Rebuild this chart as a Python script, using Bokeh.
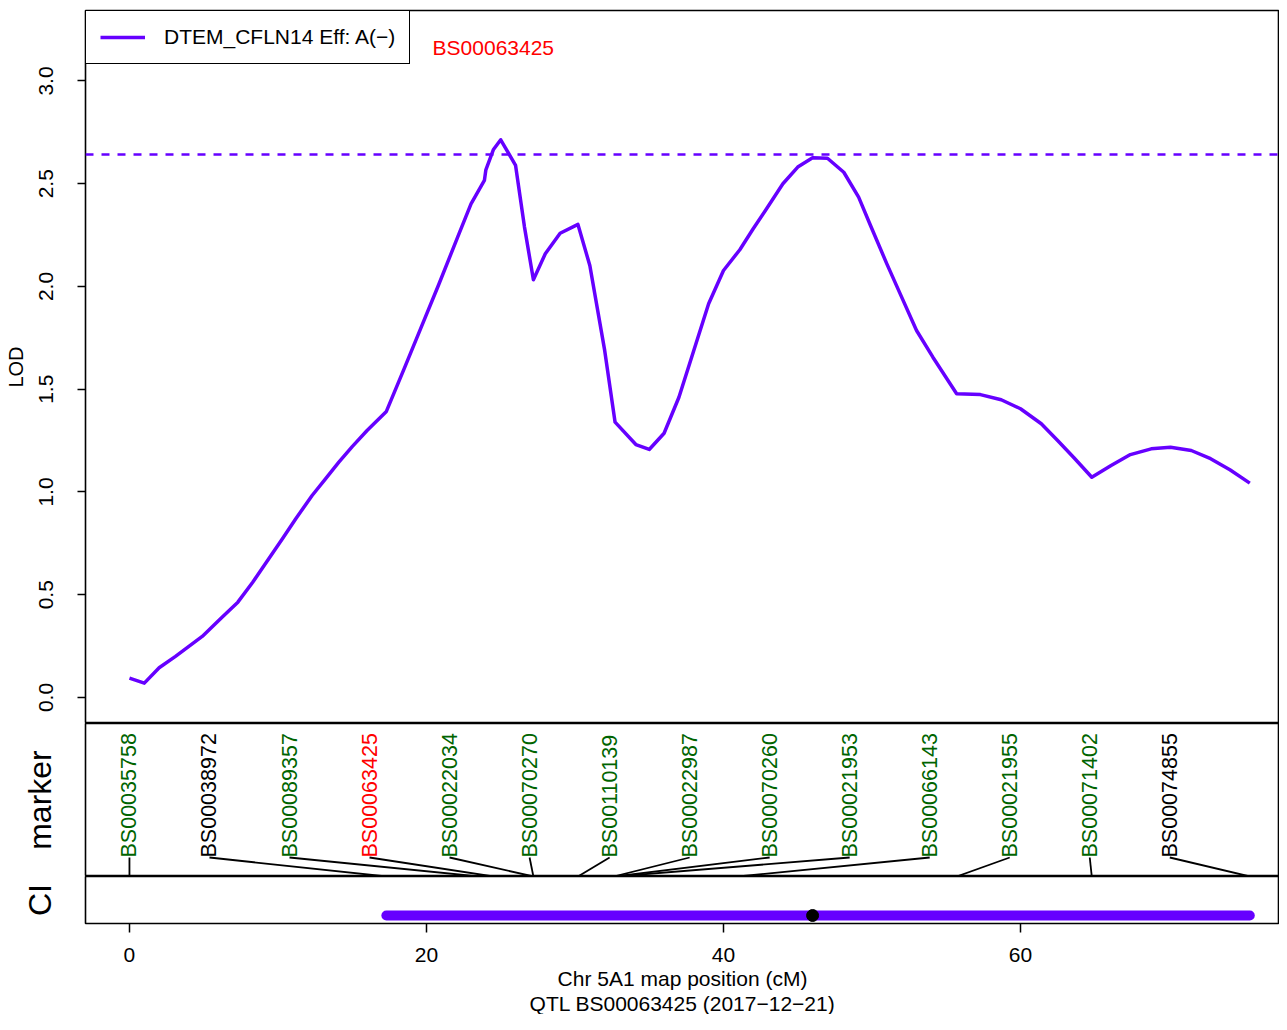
import math
from bokeh.plotting import figure
from bokeh.layouts import column
from bokeh.models import Range1d, FixedTicker, Legend, LegendItem, Span, Title
from bokeh.core.properties import value
from bokeh.embed import file_html
from bokeh.resources import INLINE

# ---------------- data ----------------
lod_pos = [0.0, 1.0, 2.0, 3.1, 4.9, 6.2, 7.3, 8.3, 9.3, 10.3, 11.2, 12.3, 13.2, 14.1, 15.0,
           16.0, 17.3, 18.5, 19.6, 20.8, 22.1, 23.0, 23.9, 24.0, 24.5, 25.0, 26.0, 26.6, 27.2,
           28.0, 29.0, 30.2, 31.0, 32.0, 32.7, 34.1, 35.0, 36.0, 37.0, 38.0, 39.0, 40.0, 41.1,
           42.0, 42.9, 44.0, 45.0, 46.0, 47.0, 48.1, 49.1, 49.9, 51.0, 51.9, 53.0, 54.1, 55.7,
           57.3, 58.7, 60.0, 61.4, 62.5, 63.6, 64.8, 66.1, 67.4, 68.8, 70.1, 71.5, 72.8, 74.1, 75.44]
lod_val = [0.094, 0.070, 0.145, 0.200, 0.297, 0.388, 0.464, 0.561, 0.667, 0.772, 0.870, 0.983,
           1.064, 1.145, 1.221, 1.299, 1.392, 1.600, 1.794, 2.005, 2.240, 2.402, 2.516, 2.568,
           2.665, 2.714, 2.589, 2.289, 2.033, 2.159, 2.259, 2.302, 2.102, 1.689, 1.340, 1.231,
           1.207, 1.286, 1.461, 1.689, 1.916, 2.078, 2.179, 2.281, 2.378, 2.500, 2.581, 2.626,
           2.624, 2.556, 2.435, 2.297, 2.110, 1.964, 1.786, 1.656, 1.478, 1.474, 1.449, 1.405,
           1.332, 1.251, 1.167, 1.072, 1.129, 1.182, 1.210, 1.218, 1.202, 1.162, 1.108, 1.043]
threshold = 2.642

marker_names = ["BS00035758", "BS00038972", "BS00089357", "BS00063425", "BS00022034",
                "BS00070270", "BS00110139", "BS00022987", "BS00070260", "BS00021953",
                "BS00066143", "BS00021955", "BS00071402", "BS00074855"]
marker_pos = [0.0, 17.3, 23.5, 24.5, 27.2, 27.2, 30.2, 32.6, 32.7, 32.8, 41.0, 55.7, 64.8, 75.44]
marker_colors = ["darkgreen", "black", "darkgreen", "red", "darkgreen", "darkgreen", "darkgreen",
                 "darkgreen", "darkgreen", "darkgreen", "darkgreen", "darkgreen", "darkgreen", "black"]
qtl_marker = "BS00063425"
ci_low, ci_high, ci_peak = 17.3, 75.44, 46.0
x_ticks = [0, 20, 40, 60]
y_ticks = [0.0, 0.5, 1.0, 1.5, 2.0, 2.5, 3.0]

legend_label = "DTEM_CFLN14 Eff: A(\u2212)"
ylab = "LOD"
xlab = "Chr 5A1 map position (cM)"
sub = "QTL BS00063425 (2017\u221212\u221221)"

PURPLE = "#6600FF"
FONT = "Liberation Sans"
W = 1279
LEFT = 85

x_range = Range1d(-2.96, 77.44)


def style(fig):
    fig.grid.visible = False
    fig.outline_line_color = "black"
    fig.outline_line_width = 1.6
    fig.background_fill_color = "white"
    fig.border_fill_color = "white"


# ---------------- main LOD panel ----------------
p1 = figure(width=W, height=723, output_backend="svg", toolbar_location=None,
            x_range=x_range, y_range=Range1d(-0.1265, 3.343), x_axis_location=None,
            min_border_left=LEFT, min_border_right=0, min_border_top=10, min_border_bottom=0)
style(p1)
ya = p1.yaxis[0]
ya.ticker = FixedTicker(ticks=y_ticks)
ya.major_label_overrides = {t: f"{t:.1f}" for t in y_ticks}
ya.major_label_orientation = "vertical"
ya.axis_line_color = None
ya.major_tick_in = 0
ya.major_tick_out = 8
ya.minor_tick_line_color = None
ya.major_tick_line_width = 1.5
ya.major_label_standoff = 24
ya.major_label_text_font = FONT
ya.major_label_text_font_size = "21px"
ya.major_label_text_color = "black"
ya.axis_label = ylab
ya.axis_label_standoff = 10
ya.axis_label_text_font = FONT
ya.axis_label_text_font_size = "20px"
ya.axis_label_text_font_style = "normal"
ya.axis_label_text_color = "black"

p1.add_layout(Span(location=threshold, dimension="width", line_color=PURPLE,
                   line_width=2.5, line_dash="8 8"))
curve = p1.line(lod_pos, lod_val, line_color=PURPLE, line_width=3.5, line_join="round")

leg = Legend(items=[LegendItem(label=legend_label, renderers=[curve])], location="top_left",
             margin=0, padding=14, spacing=0, glyph_width=45, glyph_height=24,
             label_standoff=19, label_text_font=FONT, label_text_font_size="21px",
             label_text_color="black",
             border_line_color="black", border_line_width=1.8, border_line_alpha=1.0,
             background_fill_color="white", background_fill_alpha=1.0)
p1.add_layout(leg)

qi = marker_names.index(qtl_marker)
p1.text(x=[marker_pos[qi]], y=[3.163], text=[qtl_marker], text_color="red",
        text_align="center", text_baseline="middle",
        text_font=value(FONT), text_font_size="21px")

# ---------------- marker panel ----------------
p2 = figure(width=W, height=153, output_backend="svg", toolbar_location=None,
            x_range=x_range, y_range=Range1d(0, 1), x_axis_location=None,
            min_border_left=LEFT, min_border_right=0, min_border_top=0, min_border_bottom=0)
style(p2)
ya2 = p2.yaxis[0]
ya2.ticker = FixedTicker(ticks=[])
ya2.axis_line_color = None
ya2.major_tick_out = 0
ya2.major_tick_in = 0
ya2.minor_tick_line_color = None
ya2.axis_label = "marker"
ya2.axis_label_standoff = 28
ya2.axis_label_text_font = FONT
ya2.axis_label_text_font_size = "32px"
ya2.axis_label_text_font_style = "normal"
ya2.axis_label_text_color = "black"

n = len(marker_names)
step = max(marker_pos) / n
label_x = [i * step for i in range(n)]
base = 19 / 153
p2.text(x=label_x, y=[base] * n, text=marker_names, text_color=marker_colors,
        angle=math.pi / 2, text_align="left", text_baseline="middle",
        text_font=value(FONT), text_font_size="21.5px")
p2.segment(x0=label_x, y0=[base] * n, x1=marker_pos, y1=[0] * n,
           line_color="black", line_width=1.8)

# ---------------- CI panel ----------------
p3 = figure(width=W, height=138, output_backend="svg", toolbar_location=None,
            x_range=x_range, y_range=Range1d(0, 1),
            min_border_left=LEFT, min_border_right=0, min_border_top=0, min_border_bottom=91)
style(p3)
ya3 = p3.yaxis[0]
ya3.ticker = FixedTicker(ticks=[])
ya3.axis_line_color = None
ya3.major_tick_out = 0
ya3.major_tick_in = 0
ya3.minor_tick_line_color = None
ya3.axis_label = "CI"
ya3.axis_label_standoff = 28
ya3.axis_label_text_font = FONT
ya3.axis_label_text_font_size = "32px"
ya3.axis_label_text_font_style = "normal"
ya3.axis_label_text_color = "black"

xa = p3.xaxis[0]
xa.ticker = FixedTicker(ticks=x_ticks)
xa.axis_line_color = None
xa.major_tick_in = 0
xa.major_tick_out = 9
xa.minor_tick_line_color = None
xa.major_tick_line_width = 1.5
xa.major_label_standoff = 15
xa.major_label_text_font = FONT
xa.major_label_text_font_size = "21px"
xa.major_label_text_color = "black"

cy = 8 / 47
p3.segment(x0=[ci_low], y0=[cy], x1=[ci_high], y1=[cy],
           line_color=PURPLE, line_width=10, line_cap="round")
p3.scatter(x=[ci_peak], y=[cy], size=12, color="black")

p3.add_layout(Title(text=xlab, align="center", offset=7, standoff=0, text_color="black",
                    text_font=FONT, text_font_size="21px", text_font_style="normal"), "below")
p3.add_layout(Title(text=sub, align="center", offset=7, standoff=0, text_color="black",
                    text_font=FONT, text_font_size="21px", text_font_style="normal"), "below")

layout = column(p1, p2, p3, spacing=0)
open("out.html", "w").write(file_html(layout, INLINE))
